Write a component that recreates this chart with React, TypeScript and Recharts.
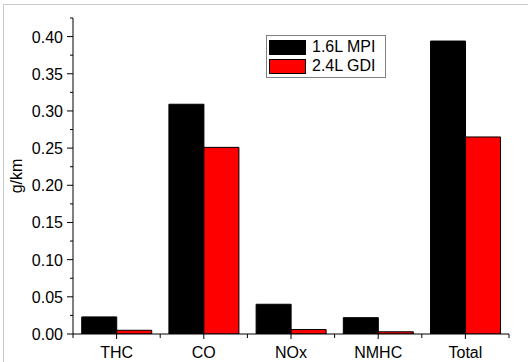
import React from "react";
import { BarChart, Bar, XAxis, YAxis } from "recharts";

const categories = ["THC", "CO", "NOx", "NMHC", "Total"];
const mpi16 = [0.023, 0.309, 0.040, 0.022, 0.394];
const gdi24 = [0.005, 0.251, 0.006, 0.003, 0.265];
const yTicks = [0, 0.025, 0.05, 0.075, 0.1, 0.125, 0.15, 0.175, 0.2, 0.225, 0.25, 0.275, 0.3, 0.325, 0.35, 0.375, 0.4, 0.425];
const majorYTicks = ["0.00", "0.05", "0.10", "0.15", "0.20", "0.25", "0.30", "0.35", "0.40"];
const seriesNames = ["1.6L MPI", "2.4L GDI"];
const seriesColors = ["#000000", "#ff0000"];

const data = categories.map((c, i) => ({ name: c, mpi: mpi16[i], gdi: gdi24[i] }));

const FONT = "'Liberation Sans', Arial, sans-serif";

const YTick = (props: any) => {
  const { x, y, payload } = props;
  const v = payload.value as number;
  const label = v.toFixed(2);
  const isMajor = majorYTicks.includes(label) && Math.abs(Math.round(v * 1000) % 50) === 0;
  return (
    <g>
      <line x1={x + 8} x2={x + 8 - (isMajor ? 6 : 3)} y1={y} y2={y} stroke="#000" strokeWidth={1} />
      {isMajor && (
        <text x={x - 2} y={y} dy={6} textAnchor="end" fontSize={16} fontFamily={FONT} fill="#000">
          {label}
        </text>
      )}
    </g>
  );
};

const XTick = (props: any) => {
  const { x, y, payload, index, visibleTicksCount } = props;
  const off = payload.offset || 0;
  return (
    <g>
      <line x1={x} x2={x} y1={y - 8} y2={y - 3} stroke="#000" strokeWidth={1} />
      <line x1={x - off} x2={x - off} y1={y - 8} y2={y - 4} stroke="#000" strokeWidth={1} />
      {index === visibleTicksCount - 1 && (
        <line x1={x + off} x2={x + off} y1={y - 8} y2={y - 4} stroke="#000" strokeWidth={1} />
      )}
      <text x={x} y={y} dy={16} textAnchor="middle" fontSize={16} fontFamily={FONT} fill="#000">
        {payload.value}
      </text>
    </g>
  );
};

const LegendBox = () => (
  <div
    style={{
      position: "absolute",
      left: 266,
      top: 35,
      width: 118,
      height: 41,
      border: "1px solid #808080",
      background: "#fff",
      fontFamily: FONT,
      fontSize: 16,
      color: "#000",
    }}
  >
    {seriesNames.map((t, i) => (
      <div key={i} style={{ position: "absolute", left: 2, top: 2 + i * 19, height: 18, display: "flex", alignItems: "center" }}>
        <div style={{ width: 35, height: 13, background: seriesColors[i], border: "1px solid #000" }} />
        <span style={{ marginLeft: 6, lineHeight: "18px" }}>{t}</span>
      </div>
    ))}
  </div>
);

export default function App() {
  return (
    <div style={{ position: "absolute", left: 0, top: 0, width: 528, height: 362, background: "#fff" }}>
      <div style={{ position: "absolute", left: 3, top: 4, width: 525, height: 358, borderLeft: "1px solid #c8c8c8", borderTop: "1px solid #c8c8c8" }} />
      <div style={{ position: "absolute", left: 0, top: 0 }}>
        <BarChart
          width={528}
          height={362}
          data={data}
          margin={{ top: 18, right: 19, left: 0, bottom: 0 }}
          barCategoryGap="10%"
          barGap={0}
        >
          <XAxis
            dataKey="name"
            height={28}
            axisLine={{ stroke: "#000", strokeWidth: 1 }}
            tickLine={false}
            tick={<XTick />}
            interval={0}
          />
          <YAxis
            width={73}
            domain={[0, 0.425]}
            ticks={yTicks}
            interval={0}
            allowDataOverflow
            axisLine={{ stroke: "#000", strokeWidth: 1 }}
            tickLine={false}
            tick={<YTick />}
            label={{
              value: "g/km",
              angle: -90,
              position: "insideLeft",
              offset: 0,
              style: { fontSize: 16, fontFamily: FONT, fill: "#000", textAnchor: "middle" },
              dx: 16,
            }}
          />
          <Bar dataKey="mpi" name={seriesNames[0]} fill={seriesColors[0]} stroke="#000" strokeWidth={1} isAnimationActive={false} />
          <Bar dataKey="gdi" name={seriesNames[1]} fill={seriesColors[1]} stroke="#000" strokeWidth={1} isAnimationActive={false} />
        </BarChart>
      </div>
      <LegendBox />
    </div>
  );
}
